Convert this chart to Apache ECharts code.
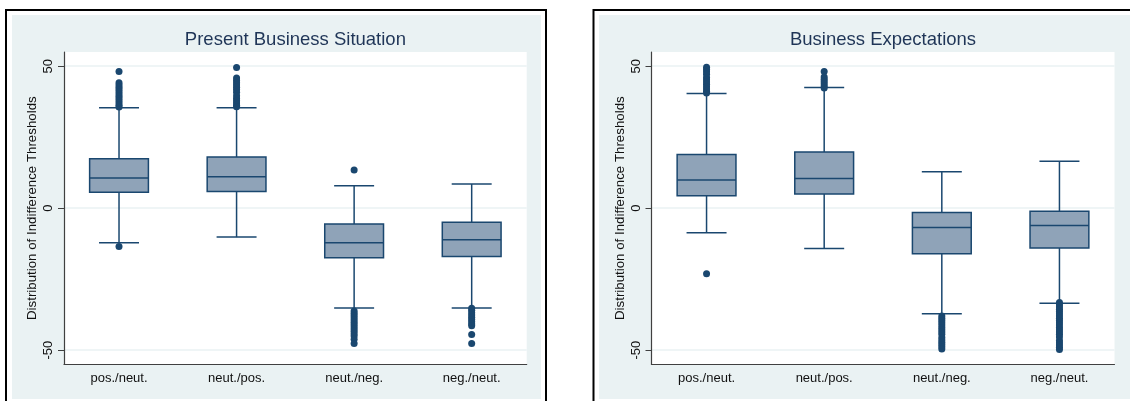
<!DOCTYPE html>
<html>
<head>
<meta charset="utf-8">
<script src="https://cdn.jsdelivr.net/npm/echarts@6/dist/echarts.min.js"></script>
<style>
html,body{margin:0;padding:0;background:#fff;}
#c{width:1130px;height:401px;}
</style>
</head>
<body>
<div id="c"></div>
<script>
// ---- data ----
var categories = ['pos./neut.', 'neut./pos.', 'neut./neg.', 'neg./neut.'];
var titles = ['Present Business Situation', 'Business Expectations'];
var yTicks = [-50, 0, 50];
var yTitle = 'Distribution of Indifference Thresholds';

// box stats: [lower whisker, Q1, median, Q3, upper whisker]
var presentBoxes = [
  [-12.2, 5.6, 10.6, 17.4, 35.4],
  [-10.2, 5.9, 11.1, 18.0, 35.4],
  [-35.2, -17.5, -12.2, -5.6, 7.9],
  [-35.2, -17.0, -11.1, -5.0, 8.5]
];
var expectBoxes = [
  [-8.7, 4.4, 9.9, 18.9, 40.4],
  [-14.2, 5.0, 10.4, 19.8, 42.5],
  [-37.2, -16.1, -6.8, -1.5, 12.8],
  [-33.5, -14.0, -6.1, -1.05, 16.5]
];

// outliers per category
var presentOutliers = [
  [48.1, 44.2, 43.4, 42.6, 41.8, 41.0, 40.2, 39.4, 38.6, 37.8, 37.0, 36.2, 35.6, -13.5],
  [49.5, 45.8, 45.0, 44.2, 43.4, 42.6, 41.8, 40.8, 39.6, 38.6, 37.8, 37.0, 36.2, 35.7],
  [13.4, -36.2, -37.0, -37.8, -38.6, -39.4, -40.2, -41.0, -41.8, -42.6, -43.4, -44.2, -45.0, -46.2, -47.7],
  [-35.3, -36.0, -36.8, -37.6, -38.4, -39.2, -40.0, -40.8, -41.4, -44.5, -47.7]
];
var expectOutliers = [
  [49.6, 48.8, 48.0, 47.2, 46.0, 45.2, 44.4, 43.6, 42.8, 42.0, 41.2, 40.6, -23.1],
  [48.1, 46.2, 45.4, 44.6, 43.8, 43.0, 42.3],
  [-38.0, -38.8, -39.6, -40.4, -41.2, -42.0, -42.8, -43.6, -44.4, -45.6, -46.4, -47.2, -48.0, -48.8, -49.6],
  [-33.2, -34.0, -34.8, -35.6, -36.4, -37.2, -38.0, -38.8, -39.6, -40.4, -41.2, -42.0, -42.8, -43.6, -44.4, -45.4, -46.6, -47.4, -48.2, -49.0, -49.8]
];

// ---- styles ----
var NAVY = '#1a476f';
var BOXFILL = '#8fa3b8';
var BG = '#eaf2f3';
var AXIS = '#404040';
var FONT = '"Liberation Sans", Arial, sans-serif';

var chart = echarts.init(document.getElementById('c'), null, {renderer: 'canvas'});

var grids = [
  {left: 64, top: 52, width: 462.7, height: 312.3},
  {left: 651.5, top: 52, width: 463, height: 312.3}
];

function boxData(arr) {
  return arr.map(function (b, i) { return [i + 1].concat(b); });
}
function outlierData(arr) {
  var out = [];
  arr.forEach(function (list, i) {
    list.forEach(function (v) { out.push([i + 1, v]); });
  });
  return out;
}

function renderBox(params, api) {
  var x = api.value(0);
  var lo = api.value(1), q1 = api.value(2), md = api.value(3), q3 = api.value(4), hi = api.value(5);
  var bw = 0.25, cw = 0.17;
  var pQ3L = api.coord([x - bw, q3]);
  var pQ1R = api.coord([x + bw, q1]);
  var pMdL = api.coord([x - bw, md]);
  var pMdR = api.coord([x + bw, md]);
  var pHi = api.coord([x, hi]);
  var pLo = api.coord([x, lo]);
  var pQ3 = api.coord([x, q3]);
  var pQ1 = api.coord([x, q1]);
  var cHiL = api.coord([x - cw, hi]);
  var cHiR = api.coord([x + cw, hi]);
  var cLoL = api.coord([x - cw, lo]);
  var cLoR = api.coord([x + cw, lo]);
  var ls = {stroke: NAVY, lineWidth: 1.5};
  return {
    type: 'group',
    children: [
      {type: 'line', shape: {x1: pHi[0], y1: pHi[1], x2: pQ3[0], y2: pQ3[1]}, style: ls},
      {type: 'line', shape: {x1: pLo[0], y1: pLo[1], x2: pQ1[0], y2: pQ1[1]}, style: ls},
      {type: 'line', shape: {x1: cHiL[0], y1: cHiL[1], x2: cHiR[0], y2: cHiR[1]}, style: ls},
      {type: 'line', shape: {x1: cLoL[0], y1: cLoL[1], x2: cLoR[0], y2: cLoR[1]}, style: ls},
      {type: 'rect', shape: {x: pQ3L[0], y: pQ3L[1], width: pQ1R[0] - pQ3L[0], height: pQ1R[1] - pQ3L[1]},
        style: {fill: BOXFILL, stroke: NAVY, lineWidth: 1.5}},
      {type: 'line', shape: {x1: pMdL[0], y1: pMdL[1], x2: pMdR[0], y2: pMdR[1]}, style: ls}
    ]
  };
}

function xAxisCfg(gi) {
  return {
    type: 'value', gridIndex: gi, min: 0.532, max: 4.468,
    axisLine: {show: true, onZero: false, lineStyle: {color: AXIS, width: 1.2}},
    axisTick: {show: false},
    splitLine: {show: false},
    axisLabel: {
      customValues: [1, 2, 3, 4],
      formatter: function (v) { return categories[Math.round(v) - 1] || ''; },
      fontSize: 13, color: '#111', fontFamily: FONT, margin: 8
    }
  };
}
function yAxisCfg(gi) {
  return {
    type: 'value', gridIndex: gi, min: -55, max: 55,
    axisLine: {show: true, lineStyle: {color: AXIS, width: 1.2}},
    axisTick: {show: true, length: 6, customValues: yTicks, lineStyle: {color: AXIS, width: 1}},
    axisLabel: {customValues: yTicks, rotate: 90, fontSize: 13, color: '#111', fontFamily: FONT, margin: 9},
    splitLine: {show: true, lineStyle: {color: BG, width: 1.5}},
    name: yTitle, nameLocation: 'middle', nameGap: 25, nameRotate: 90,
    nameTextStyle: {fontSize: 13.3, color: '#111', fontFamily: FONT}
  };
}

var option = {
  animation: false,
  backgroundColor: '#fff',
  textStyle: {fontFamily: FONT},
  graphic: [
    {type: 'rect', z: -10, shape: {x: 12, y: 15, width: 529, height: 384}, style: {fill: BG}},
    {type: 'rect', z: -10, shape: {x: 599, y: 15, width: 540, height: 384}, style: {fill: BG}},
    {type: 'rect', z: -9, shape: {x: 6, y: 10, width: 540, height: 400}, style: {fill: 'none', stroke: '#000', lineWidth: 2}},
    {type: 'rect', z: -9, shape: {x: 593.5, y: 10, width: 600, height: 400}, style: {fill: 'none', stroke: '#000', lineWidth: 2}},
    {type: 'text', x: 295.4, y: 40, style: {text: titles[0], fontSize: 18.5, fill: '#1f3557', font: '18.5px ' + FONT, textAlign: 'center', textVerticalAlign: 'middle'}},
    {type: 'text', x: 883, y: 40, style: {text: titles[1], fontSize: 18.5, fill: '#1f3557', font: '18.5px ' + FONT, textAlign: 'center', textVerticalAlign: 'middle'}}
  ],
  grid: grids.map(function (g) {
    return {left: g.left, top: g.top, width: g.width, height: g.height, show: true, backgroundColor: '#fff', borderWidth: 0};
  }),
  xAxis: [xAxisCfg(0), xAxisCfg(1)],
  yAxis: [yAxisCfg(0), yAxisCfg(1)],
  series: [
    {type: 'custom', xAxisIndex: 0, yAxisIndex: 0, renderItem: renderBox, data: boxData(presentBoxes), z: 2,
      encode: {x: 0, y: [1, 2, 3, 4, 5]}},
    {type: 'custom', xAxisIndex: 1, yAxisIndex: 1, renderItem: renderBox, data: boxData(expectBoxes), z: 2,
      encode: {x: 0, y: [1, 2, 3, 4, 5]}},
    {type: 'scatter', xAxisIndex: 0, yAxisIndex: 0, data: outlierData(presentOutliers), symbolSize: 7,
      itemStyle: {color: NAVY, opacity: 1}, z: 3},
    {type: 'scatter', xAxisIndex: 1, yAxisIndex: 1, data: outlierData(expectOutliers), symbolSize: 7,
      itemStyle: {color: NAVY, opacity: 1}, z: 3}
  ]
};
chart.setOption(option);
</script>
</body>
</html>
